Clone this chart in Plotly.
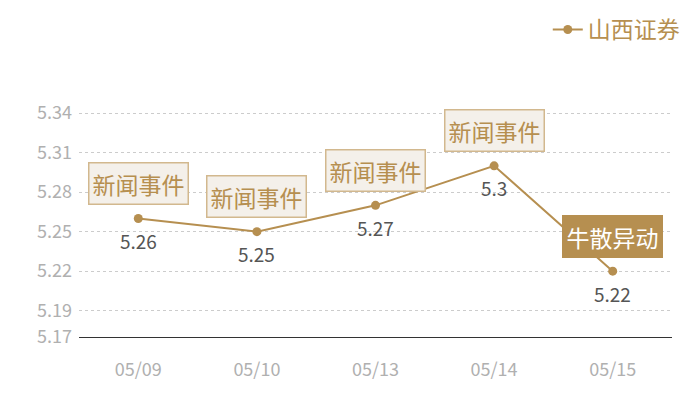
import plotly.graph_objects as go

dates = ["05/09", "05/10", "05/13", "05/14", "05/15"]
prices = [5.26, 5.25, 5.27, 5.30, 5.22]
price_labels = ["5.26", "5.25", "5.27", "5.3", "5.22"]
events = ["新闻事件", "新闻事件", "新闻事件", "新闻事件", "牛散异动"]
event_dark = [False, False, False, False, True]
tick_vals = [5.17, 5.19, 5.22, 5.25, 5.28, 5.31, 5.34, 5.35]
tick_text = ["5.17", "5.19", "5.22", "5.25", "5.28", "5.31", "5.34", ""]

GOLD = "#b68f50"
FONT = "Noto Sans CJK SC"

fig = go.Figure()
fig.add_trace(go.Scatter(
    x=dates, y=prices, name="山西证券",
    mode="lines+markers",
    line=dict(color=GOLD, width=2),
    marker=dict(color=GOLD, size=9),
    cliponaxis=False,
))

for d, p, lab in zip(dates, prices, price_labels):
    fig.add_annotation(
        x=d, y=p, text=lab, showarrow=False, yshift=-22,
        font=dict(size=19, color="#555555", family=FONT),
    )

for d, p, ev, dark in zip(dates, prices, events, event_dark):
    fig.add_annotation(
        x=d, y=p, text=ev, showarrow=False, yshift=35,
        font=dict(size=23, color="#ffffff" if dark else GOLD, family=FONT),
        bgcolor=GOLD if dark else "#f4f0ea",
        bordercolor=GOLD if dark else "#d2b88e",
        borderwidth=1.5, borderpad=3,
    )

fig.update_layout(
    width=692, height=392,
    margin=dict(l=71, r=28, t=92, b=63, autoexpand=False),
    paper_bgcolor="white", plot_bgcolor="white",
    font=dict(family=FONT),
    showlegend=True,
    legend=dict(orientation="h", x=0.978, xanchor="right", xref="container",
                y=1.0, yanchor="top", yref="container",
                font=dict(size=23, color=GOLD, family=FONT),
                bgcolor="rgba(0,0,0,0)"),
    xaxis=dict(type="category", range=[-0.5, 4.5], showgrid=False,
               showline=True, linecolor="#333333", linewidth=1.2,
               ticks="", tickfont=dict(size=18, color="#b0b0b0"),
               ticklabelstandoff=16, zeroline=False, automargin=False),
    yaxis=dict(range=[5.17, 5.35], tickvals=tick_vals, ticktext=tick_text,
               showgrid=True, gridcolor="#cccccc", griddash="dot", gridwidth=1,
               tickfont=dict(size=18, color="#b0b0b0"), ticks="",
               zeroline=False, showline=False, ticklabelstandoff=6,
               automargin=False),
)

fig.write_html("out.html")
